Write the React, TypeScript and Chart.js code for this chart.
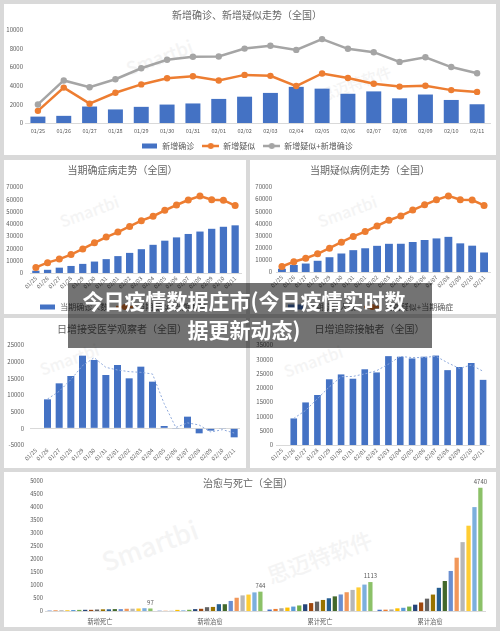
import React, { useEffect, useRef } from "react";
import { Chart, registerables } from "chart.js";
Chart.register(...registerables);

const FONT = "'Noto Sans CJK SC', 'Noto Sans', sans-serif";
const TXT = "#595959";
const TITLE = "#666666";
const BLUE = "#4472C4";
const ORANGE = "#ED7D31";
const GREY = "#A5A5A5";
const TREND = "#8FAADC";
const AXIS = "#D9D9D9";

Chart.defaults.font.family = FONT;
Chart.defaults.color = TXT;

// ---------- data ----------
const dates = ["01/25", "01/26", "01/27", "01/28", "01/29", "01/30", "01/31", "02/01", "02/02", "02/03", "02/04", "02/05", "02/06", "02/07", "02/08", "02/09", "02/10", "02/11"];

const newConfirmed = [688, 769, 1771, 1459, 1737, 1982, 2102, 2590, 2829, 3235, 3887, 3694, 3143, 3399, 2656, 3062, 2478, 2015];
const newSuspected = [1309, 3806, 2077, 3248, 4148, 4812, 5019, 4562, 5173, 5072, 3971, 5328, 4833, 4214, 3916, 4008, 3536, 3342];
const newSuspectedPlusConfirmed = [1997, 4575, 3848, 4707, 5885, 6794, 7121, 7152, 8002, 8307, 7858, 9022, 7976, 7613, 6572, 7070, 6014, 5357];

const currentConfirmed = [1870, 2613, 4349, 5739, 7417, 9308, 11289, 13748, 16369, 19381, 22942, 26302, 28985, 31774, 33738, 35982, 37626, 38800];
const currentSuspected = [2684, 5794, 6973, 9239, 12167, 15238, 17988, 19544, 21558, 23214, 23260, 24702, 26359, 27657, 28942, 23589, 21675, 16067];
const currentSuspectedPlusConfirmed = [4554, 8407, 11322, 14978, 19584, 24546, 29277, 33292, 37927, 42595, 46202, 51004, 55344, 59431, 62680, 59571, 59301, 54867];

const observationDaily = [null, 8700, 13500, 15700, 21800, 20500, 16000, 19000, 15000, 18500, 14000, 700, -200, 3500, -1500, -700, -100, -2700];
const observationTrend = [null, 8800, 11100, 14600, 18800, 21200, 18300, 17500, 17000, 16800, 16300, 7400, 250, 1650, 1000, -1100, -400, -1400];

const contactsDaily = [null, 9300, 14900, 17500, 23000, 24700, 23200, 26500, 25400, 31100, 30900, 30300, 30900, 31300, 26200, 27300, 28700, 22800];
const contactsTrend = [null, 9300, 12100, 16200, 20300, 23900, 24000, 24900, 26000, 28300, 31000, 30600, 30600, 31100, 28800, 26800, 28000, 25800];

const outcomeCategories = ["新增死亡", "新增治愈", "累计死亡", "累计治愈"];
const newDeaths = [15, 24, 26, 26, 38, 43, 46, 45, 57, 64, 65, 73, 73, 86, 89, 97, 108, 97];
const newCured = [11, 9, 9, 43, 21, 47, 72, 85, 147, 157, 262, 261, 387, 510, 600, 632, 716, 744];
const totalDeaths = [56, 80, 106, 132, 170, 213, 259, 304, 361, 425, 490, 563, 636, 722, 811, 908, 1016, 1113];
const totalCured = [49, 51, 60, 103, 124, 171, 243, 328, 475, 632, 892, 1153, 1540, 2050, 2649, 3281, 3996, 4740];
const palette = ["#4472C4", "#ED7D31", "#A5A5A5", "#FFC000", "#5B9BD5", "#70AD47", "#264478", "#9E480E", "#636363", "#997300", "#255E91", "#43682B", "#698ED0", "#F1975A", "#B7B7B7", "#FFCD33", "#7CAFDD", "#8CC168"];

// ---------- helpers ----------
function lineMarker(color: string, w = 17, h = 8) {
  const c = document.createElement("canvas");
  c.width = w; c.height = h;
  const g = c.getContext("2d")!;
  g.strokeStyle = color; g.lineWidth = 2.5;
  g.beginPath(); g.moveTo(0, h / 2); g.lineTo(w, h / 2); g.stroke();
  g.fillStyle = color; g.beginPath(); g.arc(w / 2, h / 2, 3, 0, Math.PI * 2); g.fill();
  return c;
}
function rectMarker(color: string, w = 15, h = 5) {
  const c = document.createElement("canvas");
  c.width = w; c.height = 8;
  const g = c.getContext("2d")!;
  g.fillStyle = color; g.fillRect(0, (8 - h) / 2, w, h);
  return c;
}

function legendOpts(items: { text: string; marker: HTMLCanvasElement }[], size = 8, pad = 8) {
  return {
    display: true,
    position: "bottom" as const,
    labels: {
      usePointStyle: true,
      pointStyleWidth: 17,
      padding: pad,
      color: TXT,
      font: { size },
      generateLabels: () => items.map((it, i) => ({
        text: it.text, pointStyle: it.marker, fillStyle: "transparent", strokeStyle: "transparent",
        lineWidth: 0, hidden: false, datasetIndex: i, fontColor: TXT,
      })),
    },
  };
}

function titleOpts(text: string, top: number, bottom: number) {
  return { display: true, text, color: TITLE, font: { size: 10, weight: "normal" as const }, padding: { top, bottom } };
}

const numCb = (v: any) => String(v);

function yAxis(min: number, max: number, step: number, width: number, pad: number, size = 6, zeroLine = false) {
  return {
    min, max,
    ticks: { stepSize: step, callback: numCb, padding: pad, font: { size }, color: TXT },
    grid: zeroLine
      ? { display: true, drawTicks: false, color: (ctx: any) => (ctx.tick && ctx.tick.value === 0 ? AXIS : "rgba(0,0,0,0)"), lineWidth: 1 }
      : { display: false, drawTicks: false },
    border: { display: false },
    afterFit: (s: any) => { s.width = width; },
  };
}

function xAxis(height: number, pad: number, size: number, rot: number, border = true) {
  return {
    ticks: { autoSkip: false, maxRotation: rot, minRotation: rot, padding: pad, font: { size }, color: TXT },
    grid: { display: false, drawTicks: false },
    border: { display: border, color: AXIS, width: 1 },
    afterFit: (s: any) => { s.height = height; },
  };
}

const lastLabels = {
  id: "lastLabels",
  afterDatasetsDraw(chart: any) {
    const n = chart.data.datasets.length - 1;
    const meta = chart.getDatasetMeta(n);
    const ctx = chart.ctx;
    ctx.save();
    ctx.font = `6px ${FONT}`;
    ctx.fillStyle = TXT;
    ctx.textAlign = "center";
    ctx.textBaseline = "bottom";
    meta.data.forEach((el: any, i: number) => {
      ctx.fillText(String(chart.data.datasets[n].data[i]), el.x, el.y - 3);
    });
    ctx.restore();
  },
};

// ---------- chart builders ----------
function makeChart1(c: HTMLCanvasElement) {
  return new Chart(c, {
    type: "bar",
    data: {
      labels: dates,
      datasets: [
        { type: "line", label: "新增疑似+新增确诊", data: newSuspectedPlusConfirmed, borderColor: GREY, backgroundColor: GREY, borderWidth: 2.5, pointRadius: 3.2, pointBorderWidth: 0, pointBackgroundColor: GREY, order: 0 } as any,
        { type: "line", label: "新增疑似", data: newSuspected, borderColor: ORANGE, backgroundColor: ORANGE, borderWidth: 2.5, pointRadius: 3.2, pointBorderWidth: 0, pointBackgroundColor: ORANGE, order: 1 } as any,
        { type: "bar", label: "新增确诊", data: newConfirmed, backgroundColor: BLUE, barPercentage: 0.58, categoryPercentage: 1, order: 2 } as any,
      ],
    },
    options: {
      responsive: false, animation: false,
      layout: { padding: { left: 0, right: 6, top: 0, bottom: 0 } },
      plugins: {
        title: titleOpts("新增确诊、新增疑似走势（全国）", 5, 9),
        legend: legendOpts([
          { text: "新增确诊", marker: rectMarker(BLUE) },
          { text: "新增疑似", marker: lineMarker(ORANGE) },
          { text: "新增疑似+新增确诊", marker: lineMarker(GREY) },
        ]),
        tooltip: { enabled: false },
      },
      scales: {
        x: xAxis(11, 4.5, 5.5, 0),
        y: yAxis(0, 10000, 1000, 21, 2, 6),
      },
    } as any,
  });
}

function makeCurrent(c: HTMLCanvasElement, title: string, barLabel: string, bars: number[], xh: number, ypad: number, right: number, barPct: number) {
  return new Chart(c, {
    type: "bar",
    data: {
      labels: dates,
      datasets: [
        { type: "line", label: "当期疑似+当期确症", data: currentSuspectedPlusConfirmed, borderColor: ORANGE, backgroundColor: ORANGE, borderWidth: 2.5, pointRadius: 3.5, pointBorderWidth: 0, pointBackgroundColor: ORANGE, order: 0 } as any,
        { type: "bar", label: barLabel, data: bars, backgroundColor: BLUE, barPercentage: barPct, categoryPercentage: 1, order: 1 } as any,
      ],
    },
    options: {
      responsive: false, animation: false,
      layout: { padding: { left: 0, right, top: 0, bottom: 0 } },
      plugins: {
        title: titleOpts(title, 4, 11),
        legend: legendOpts([
          { text: barLabel, marker: rectMarker(BLUE) },
          { text: "当期疑似+当期确症", marker: lineMarker(ORANGE) },
        ]),
        tooltip: { enabled: false },
      },
      scales: {
        x: xAxis(xh, 2, 5.5, 45),
        y: yAxis(0, 70000, 10000, 26, ypad, 6),
      },
    } as any,
  });
}

function makeDaily(c: HTMLCanvasElement, title: string, bars: any[], trend: any[], min: number, max: number, ypad: number, right: number, barPct: number, zero: boolean) {
  return new Chart(c, {
    type: "bar",
    data: {
      labels: dates,
      datasets: [
        { type: "line", label: "趋势", data: trend, borderColor: TREND, borderWidth: 1, borderDash: [2, 2], pointRadius: 0, fill: false, order: 0 } as any,
        { type: "bar", label: title, data: bars, backgroundColor: BLUE, barPercentage: barPct, categoryPercentage: 1, order: 1 } as any,
      ],
    },
    options: {
      responsive: false, animation: false,
      layout: { padding: { left: 0, right, top: 0, bottom: 0 } },
      plugins: {
        title: titleOpts(title, 5, 10),
        legend: { display: false },
        tooltip: { enabled: false },
      },
      scales: {
        x: xAxis(23, 2, 5.5, 45, !zero),
        y: yAxis(min, max, 5000, 26, ypad, 6, zero),
      },
    } as any,
  });
}

function makeOutcome(c: HTMLCanvasElement) {
  return new Chart(c, {
    type: "bar",
    data: {
      labels: outcomeCategories,
      datasets: dates.map((d, i) => ({
        label: d,
        data: [newDeaths[i], newCured[i], totalDeaths[i], totalCured[i]],
        backgroundColor: palette[i],
        barPercentage: 0.72,
        categoryPercentage: 0.97,
      })),
    },
    options: {
      responsive: false, animation: false,
      layout: { padding: { left: 0, right: 11, top: 9, bottom: 0 } },
      plugins: { title: { display: false }, legend: { display: false }, tooltip: { enabled: false } },
      scales: {
        x: xAxis(16, 7, 6.3, 0),
        y: yAxis(0, 5000, 500, 41, 2, 5.8),
      },
    } as any,
    plugins: [lastLabels],
  });
}

// ---------- components ----------
type PanelProps = { x: number; y: number; w: number; h: number; ch?: number; make: (c: HTMLCanvasElement) => Chart; children?: React.ReactNode };

function Panel({ x, y, w, h, ch, make, children }: PanelProps) {
  const ref = useRef<HTMLCanvasElement>(null);
  useEffect(() => {
    const chart = make(ref.current!);
    return () => chart.destroy();
  }, []);
  const H = ch ?? h;
  return (
    <div style={{ position: "absolute", left: x, top: y, width: w, height: h, background: "#fff", overflow: "hidden" }}>
      {children}
      <canvas ref={ref} width={w} height={H} style={{ position: "absolute", left: 0, top: 0, width: w, height: H }} />
    </div>
  );
}

function Mark({ x, y, size, text }: { x: number; y: number; size: number; text: string }) {
  return (
    <div style={{ position: "absolute", left: x, top: y, fontSize: size, fontFamily: FONT, color: "#f4f4f4", transform: "rotate(-20deg)", transformOrigin: "left top", whiteSpace: "nowrap", fontWeight: 500 }}>
      {text}
    </div>
  );
}

export default function App() {
  return (
    <div style={{ position: "absolute", left: 0, top: 0, width: 500, height: 631, background: "#D9D9D9", overflow: "hidden", fontFamily: FONT }}>
      <Panel x={4} y={4} w={492} h={151} ch={156} make={makeChart1}>
        <Mark x={118} y={52} size={18} text="Smartbi" />
        <Mark x={312} y={82} size={15} text="思迈特软件" />
      </Panel>
      <Panel x={4} y={160} w={242} h={154} ch={161} make={(c) => makeCurrent(c, "当期确症病走势（全国）", "当期确诊人数", currentConfirmed, 22, 7, 5, 0.62)}>
        <Mark x={52} y={50} size={16} text="Smartbi" />
      </Panel>
      <Panel x={250} y={160} w={246} h={154} ch={161} make={(c) => makeCurrent(c, "当期疑似病例走势（全国）", "当期疑似人数", currentSuspected, 23, 4, 6, 0.66)}>
        <Mark x={64} y={50} size={16} text="Smartbi" />
      </Panel>
      <Panel x={4} y={318} w={242} h={150} make={(c) => makeDaily(c, "日增接受医学观察者（全国）", observationDaily, observationTrend, -5000, 25000, 6, 6, 0.6, true)}>
        <Mark x={32} y={40} size={16} text="Smartbi" />
      </Panel>
      <Panel x={250} y={318} w={246} h={150} make={(c) => makeDaily(c, "日增追踪接触者（全国）", contactsDaily, contactsTrend, 0, 35000, 3, 7, 0.56, false)}>
        <Mark x={30} y={42} size={16} text="Smartbi" />
      </Panel>
      <Panel x={4} y={472} w={492} h={155} make={makeOutcome}>
        <Mark x={92} y={72} size={26} text="Smartbi" />
        <Mark x={258} y={88} size={22} text="思迈特软件" />
        <div style={{ position: "absolute", left: 0, top: 5, width: 488, textAlign: "center", fontSize: 10, lineHeight: "12px", color: TITLE, zIndex: 2 }}>
          治愈与死亡（全国）
        </div>
      </Panel>
      <div style={{ position: "absolute", left: 68, top: 283, width: 364, height: 65, background: "rgba(0,0,0,0.55)", zIndex: 5 }}>
        <div style={{ position: "absolute", left: 0, top: 3, width: 352, textAlign: "center", color: "#fff", fontWeight: 700, fontSize: 21, lineHeight: "29px", fontFamily: FONT }}>
          <div>今日疫情数据庄市(今日疫情实时数</div>
          <div>据更新动态)</div>
        </div>
      </div>
    </div>
  );
}
